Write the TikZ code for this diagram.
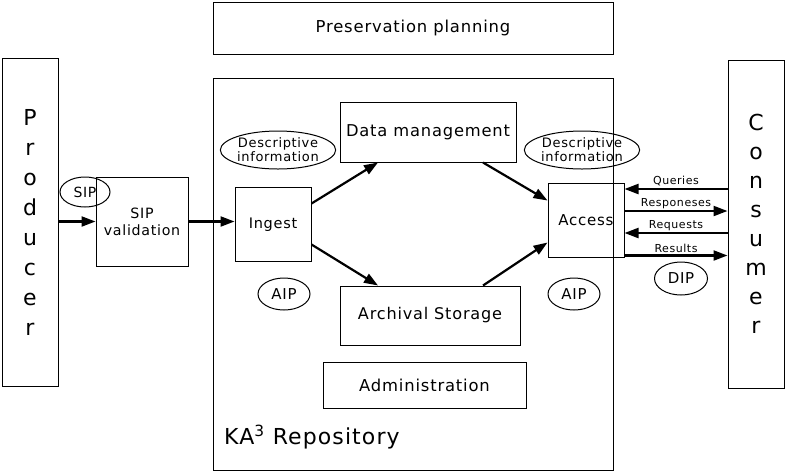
\documentclass[tikz,border=0pt]{standalone}
\usepackage{fontspec}
\setmainfont{DejaVu Sans}[LetterSpace=5]
\usetikzlibrary{arrows.meta, positioning, shapes.geometric}

\tikzset{
  box/.style={draw, line width=1pt, align=center, inner sep=0pt},
  tag/.style={draw, ellipse, line width=1pt, align=center, inner sep=0pt},
  flow/.style={line width=2.2pt, -{Triangle[length=14pt, width=10pt]}},
  flowlabel/.style={midway, above, inner sep=1.5pt, font=\fontsize{11}{12}\selectfont},
}

\begin{document}
\begin{tikzpicture}[x=1pt, y=-1pt]
\useasboundingbox (0,0) rectangle (786,472);

% Outer boxes
\node[box, minimum width=400pt, minimum height=52pt, font=\fontsize{16.4}{18}\selectfont] (planning) at (413,28) {Preservation planning};
\node[box, minimum width=400pt, minimum height=392pt] (repo) at (413,274) {};
\node[anchor=south west, inner sep=0pt, font=\fontsize{22}{24}\selectfont] (repolabel) at (224,449) {KA\textsuperscript{3} Repository};

% Producer and consumer
\node[box, minimum width=56pt, minimum height=328pt, font=\fontsize{22}{30}\selectfont] (producer) at (30,222) {P\\r\\o\\d\\u\\c\\e\\r};
\node[box, minimum width=56pt, minimum height=328pt, font=\fontsize{22}{29}\selectfont] (consumer) at (756,224) {C\\o\\n\\s\\u\\m\\e\\r};

% Inner boxes
\node[box, minimum width=92pt, minimum height=89pt, font=\fontsize{14.2}{17}\selectfont] (sipval) at (142,221.5) {SIP\\validation};
\node[box, minimum width=76pt, minimum height=74pt, font=\fontsize{14.5}{16}\selectfont] (ingest) at (273,224.5) {Ingest};
\node[box, minimum width=176pt, minimum height=60pt, font=\fontsize{16.3}{18}\selectfont] (datamgmt) at (428,132) {Data management};
\node[box, minimum width=180pt, minimum height=59pt, font=\fontsize{16.1}{18}\selectfont] (archival) at (430,315.5) {Archival Storage};
\node[box, minimum width=203pt, minimum height=46pt, font=\fontsize{16.4}{18}\selectfont] (admin) at (424.5,385) {Administration};
\node[box, minimum width=76pt, minimum height=74pt, font=\fontsize{15}{17}\selectfont] (access) at (586,220.5) {Access};

% Package tags
\node[tag, minimum width=50pt, minimum height=30pt, font=\fontsize{14}{15}\selectfont] (sip) at (85,192) {SIP};
\node[tag, minimum width=103pt, minimum height=38pt, font=\fontsize{13}{14}\selectfont] (descleft) at (278,150) {Descriptive\\information};
\node[tag, minimum width=102pt, minimum height=38pt, font=\fontsize{13}{14}\selectfont] (descright) at (582,150) {Descriptive\\information};
\node[tag, minimum width=52pt, minimum height=32pt, font=\fontsize{15}{16}\selectfont] (aipleft) at (284,294) {AIP};
\node[tag, minimum width=52pt, minimum height=32pt, font=\fontsize{15}{16}\selectfont] (aipright) at (574,294) {AIP};
\node[tag, minimum width=53pt, minimum height=33pt, font=\fontsize{15}{16}\selectfont] (dip) at (681,278.5) {DIP};

% Submission
\draw[flow] (producer.east |- sipval.west) -- (sipval.west);
\draw[flow] (sipval.east) -- (sipval.east -| ingest.west);

% Inside the repository
\draw[flow] ([yshift=21pt]ingest.east) -- ([xshift=-50pt]datamgmt.south);
\draw[flow] ([yshift=-20pt]ingest.east) -- ([xshift=-52pt]archival.north);
\draw[flow] ([xshift=55pt]datamgmt.south) -- ([yshift=20pt]access.west);
\draw[flow] ([xshift=53pt]archival.north) -- ([yshift=-22pt]access.west);

% Access and consumer
\coordinate (queries) at ([yshift=31.5pt]access.east);
\coordinate (responses) at ([yshift=9.5pt]access.east);
\coordinate (requests) at ([yshift=-12.5pt]access.east);
\coordinate (results) at ([yshift=-35pt]access.east);
\draw[flow] (consumer.west |- queries) -- (queries) node[flowlabel] {Queries};
\draw[flow] (responses) -- (consumer.west |- responses) node[flowlabel] {Responeses};
\draw[flow] (consumer.west |- requests) -- (requests) node[flowlabel] {Requests};
\draw[flow] (results) -- (consumer.west |- results) node[flowlabel] {Results};
\end{tikzpicture}
\end{document}
